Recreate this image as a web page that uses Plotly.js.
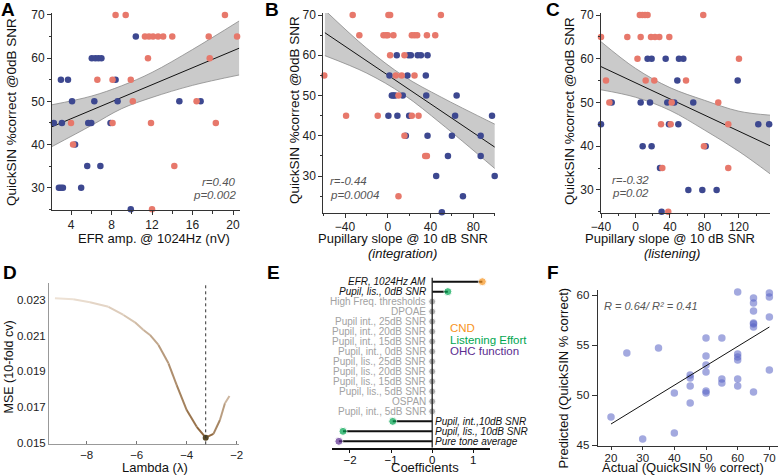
<!DOCTYPE html>
<html><head><meta charset="utf-8">
<script src="https://cdn.plot.ly/plotly-3.0.1.min.js"></script>
<style>html,body{margin:0;padding:0;background:#fff;} #chart{width:778px;height:476px;}</style>
</head><body><div id="chart"></div>
<script>
// ---------- Panel A : EFR amplitude vs QuickSIN ----------
const aRedX  = [4.0,4.2,6.6,8.1,8.1,8.4,9.4,9.9,10.1,11.3,11.7,12.1,12.6,13.1,14.0,11.6,11.9,14.2,12.0,16.4,17.6,17.7,18.3,19.2,20.4];
const aRedY  = [45,40,55,55,45,70,70,55,50,65,65,65,65,65,65,60,45,35,25,50,65,60,45,70,65];
const aBlueX = [2.3,3.1,3.0,3.7,4.1,4.4,2.8,3.0,3.2,5.0,5.6,6.9,5.7,6.0,6.05,6.4,6.7,7.0,6.3,7.9,8.4,8.6,10.4,9.9,14.7,16.8];
const aBlueY = [45,45,55,55,50,40,30,30,30,30,35,35,45,45,60,60,60,60,50,45,55,50,65,25,50,50];
const aFitX  = [2.1, 20.6];
const aFitY  = [44.1, 62.3];
const aBandX = [2.1, 6, 9, 12, 16, 20.6];
const aBandUp= [49.2, 51.2, 53.6, 56.7, 62.0, 68.6];
const aBandLo= [39.5, 44.4, 48.3, 50.9, 53.7, 56.1];

// ---------- Panel B : pupillary slope (integration) ----------
const bRedX  = [-32.8,0.6,2.2,49.7,-26.6,-4,-1.6,0,5.3,22.5,25,27.5,36.6,44.4,2.2,15.6,-59.4,7.5,13,25,10,-39,-9.4,22.5,28.8,15.6,35,36.6,10];
const bRedY  = [70,70,70,70,65,65,65,65,65,65,65,65,65,65,60,60,55,55,55,55,50,45,45,45,45,40,35,35,25];
const bBlueX = [8.4,19.4,21.6,28,31,37.2,1.6,18.4,35.6,3.8,5.3,6.9,14,36,64.4,0.6,9,20,63,97.5,16.9,37.2,60,86.9,56.3,86.9,45.3,100,70.3,50.6];
const bBlueY = [60,60,60,60,60,60,55,55,55,50,50,50,50,50,50,45,45,45,45,45,40,40,40,40,35,35,30,30,25,21];
const bFitX  = [-58.8, 100];
const bFitY  = [65.6, 37.2];
const bBandX = [-58.8, -20, 15, 50, 100];
const bBandUp= [71.2, 61.8, 54.8, 49.6, 42.9];
const bBandLo= [59.9, 55.6, 50.2, 43.0, 31.9];

// ---------- Panel C : pupillary slope (listening) ----------
const cRedX  = [-40,-34.2,-30.3,5,8,11,14,78.6,-9.5,6,18,22.6,27.6,39.2,2.3,120,11.8,21.8,58.6,42,96,29.6,40.8,107.6,79.4,31.1,107.6,38];
const cRedY  = [65,55,50,70,70,70,70,70,65,65,65,65,65,65,60,60,55,55,55,50,50,45,45,45,40,35,35,25];
const cBlueX = [-27.6,-40,14,18.7,35,50.4,55.5,48.5,118.5,6,16.8,36.9,45,67,38.8,49.7,142.4,155,8.3,18.7,81.4,28.4,61.3,77.5,94.1,30.3];
const cBlueY = [50,45,60,60,60,60,60,55,55,50,50,50,50,50,45,45,45,45,40,40,40,35,30,30,30,25];
const cFitX  = [-40, 156];
const cFitY  = [58.2, 40.1];
const cBandX = [-40, 0, 40, 80, 120, 156];
const cBandUp= [63.9, 57.8, 53.4, 50.5, 48.0, 47.1];
const cBandLo= [52.9, 51.2, 48.2, 43.7, 38.8, 33.7];

// ---------- Panel D : lasso CV curve ----------
const dLambda = [-9.27,-8.54,-7.87,-7.13,-6.53,-6.07,-5.73,-5.47,-5.13,-4.73,-4.4,-4.0,-3.6,-3.24,-2.93,-2.67,-2.47,-2.29];
const dMSE    = [0.02310,0.02304,0.02287,0.02262,0.02216,0.02175,0.02132,0.02104,0.02048,0.01945,0.01823,0.01683,0.01589,0.01528,0.01549,0.01627,0.01721,0.01762];

// ---------- Panel E : coefficients ----------
const eLabels = ["EFR, 1024Hz AM","Pupil, lis., 0dB SNR","High Freq. thresholds","DPOAE","Pupil int., 25dB SNR","Pupil, int., 20dB SNR","Pupil, int., 15dB SNR","Pupil, int., 0dB SNR","Pupil, lis., 25dB SNR","Pupil, lis., 20dB SNR","Pupil, lis., 15dB SNR","Pupil, lis., 5dB SNR","OSPAN","Pupil, int., 5dB SNR","Pupil, int.,10dB SNR","Pupil, lis., 10dB SNR","Pure tone average"];
const eCoef   = [1.22,0.38,0,0,0,0,0,0,0,0,0,0,0,0,-0.96,-2.17,-2.27];
const eGroup  = ["CND","Listening Effort","","","","","","","","","","","","","Listening Effort","Listening Effort","OHC function"];
const eLegend = ["CND","Listening Effort","OHC function"];

// ---------- Panel F : predicted vs actual ----------
const fActual = [20,25,30,35,40,40,45,45,45,45,50,50,50,50,50,50,55,55,55,60,60,60,60,60,60,65,65,65,65,65,65,65,70,70,70,70];
const fPred   = [47.8,54.2,45.6,54.7,50.2,46.2,52.0,51.7,50.9,49.2,55.7,53.9,53.0,52.3,50.4,50.2,55.7,51.6,51.2,60.3,54.1,53.8,53.5,51.6,50.9,59.7,59.2,58.4,57.2,57.1,56.8,50.3,60.2,59.8,57.8,52.5];
const fFitX   = [20, 70];
const fFitY   = [47.1, 56.8];

// ================= drawing =================
const W = 778, H = 476;
const RED = '#E7786B', BLUE = '#3D4890';
const FONT = 'Liberation Sans, Arial, Helvetica, sans-serif';
const groupColor = {"CND":"#F7941D","Listening Effort":"#00A651","OHC function":"#5B2C8F","":"#8c8c8c"};
const dx = px => px / W;
const dy = py => 1 - py / H;

const traces = [];
function bandTraces(xa, ya, bx, up, lo, fx, fy) {
  traces.push({x:bx, y:lo, xaxis:xa, yaxis:ya, mode:'lines', line:{color:'#8a8a8a', width:0.8, shape:'spline'}, hoverinfo:'skip'});
  traces.push({x:bx, y:up, xaxis:xa, yaxis:ya, mode:'lines', fill:'tonexty', fillcolor:'rgba(150,150,150,0.5)', line:{color:'#8a8a8a', width:0.8, shape:'spline'}, hoverinfo:'skip'});
  traces.push({x:fx, y:fy, xaxis:xa, yaxis:ya, mode:'lines', line:{color:'#111', width:1}});
}
function dots(xa, ya, x, y, color) {
  traces.push({x:x, y:y, xaxis:xa, yaxis:ya, mode:'markers', cliponaxis:false, marker:{color:color, size:6.5}});
}
bandTraces('x','y',aBandX,aBandUp,aBandLo,aFitX,aFitY);
dots('x','y',aBlueX,aBlueY,BLUE); dots('x','y',aRedX,aRedY,RED);
bandTraces('x2','y2',bBandX,bBandUp,bBandLo,bFitX,bFitY);
dots('x2','y2',bBlueX,bBlueY,BLUE); dots('x2','y2',bRedX,bRedY,RED);
bandTraces('x3','y3',cBandX,cBandUp,cBandLo,cFitX,cFitY);
dots('x3','y3',cBlueX,cBlueY,BLUE); dots('x3','y3',cRedX,cRedY,RED);

// Panel D gradient curve (segments between consecutive read points)
let iMin = 0;
dMSE.forEach((v,i)=>{ if (v < dMSE[iMin]) iMin = i; });
const light = [238,226,214], dark = [138,96,52];
function mix(t){ return 'rgb(' + light.map((c,k)=>Math.round(c + (dark[k]-c)*t)).join(',') + ')'; }
for (let i = 0; i < dLambda.length - 1; i++) {
  let t;
  if (i < iMin) t = Math.pow((i + 0.5) / iMin, 1.4);
  else t = 1 - 0.75 * ((i + 0.5 - iMin) / (dLambda.length - 1 - iMin));
  traces.push({x:[dLambda[i], dLambda[i+1]], y:[dMSE[i], dMSE[i+1]], xaxis:'x4', yaxis:'y4', mode:'lines', line:{color:mix(t), width:2}});
}
traces.push({x:[dLambda[iMin]], y:[dMSE[iMin]], xaxis:'x4', yaxis:'y4', mode:'markers', cliponaxis:false, marker:{color:'#5a4a28', size:6}});

// Panel E lollipops
const eIdx = eLabels.map((_,i)=>i);
eCoef.forEach((c,i)=>{
  if (c !== 0) traces.push({x:[0,c], y:[i,i], xaxis:'x5', yaxis:'y5', mode:'lines', line:{color:'#111', width:2}});
});
traces.push({x:eCoef, y:eIdx, xaxis:'x5', yaxis:'y5', mode:'markers', cliponaxis:false,
  marker:{color:eGroup.map(g=>groupColor[g]), size:eGroup.map(g=>g ? 8 : 7)}});

// Panel F
traces.push({x:fActual, y:fPred, xaxis:'x6', yaxis:'y6', mode:'markers', cliponaxis:false, marker:{color:'rgba(88,98,196,0.55)', size:7.5}});
traces.push({x:fFitX, y:fFitY, xaxis:'x6', yaxis:'y6', mode:'lines', line:{color:'#111', width:1}});

// ---------- axes ----------
function ax(domainPx, range, dtick, minor, extra) {
  const o = {domain:domainPx, range:range, showgrid:false, zeroline:false, showline:true, linecolor:'#333', linewidth:1,
    ticks:'outside', ticklen:4, tickwidth:1, tickcolor:'#333', dtick:dtick, tick0:0,
    tickfont:{size:12, color:'#222', family:FONT}, fixedrange:true};
  if (minor) o.minor = {ticks:'outside', ticklen:2.5, tickcolor:'#333', dtick:minor, tick0:0, showgrid:false};
  return Object.assign(o, extra || {});
}
const small = {size:11.5, color:'#222', family:FONT};
const layout = {
  width:W, height:H, margin:{l:0,r:0,t:0,b:0}, showlegend:false,
  paper_bgcolor:'#fff', plot_bgcolor:'rgba(0,0,0,0)',
  font:{family:FONT, size:12, color:'#222'},
  xaxis:  ax([dx(52),dx(240)], [2.12,20.69], 4, 2, {anchor:'y'}),
  yaxis:  ax([dy(210),dy(13)], [24.83,70.46], 10, 5, {anchor:'x'}),
  xaxis2: ax([dx(323.3),dx(495)], [-60.3,100.3], 40, 20, {anchor:'y2', ticklabelstandoff:-1}),
  yaxis2: ax([dy(212.7),dy(13)], [20.9,70.5], 10, 5, {anchor:'x2'}),
  xaxis3: ax([dx(601),dx(770)], [-40,156], 40, 20, {anchor:'y3', ticklabelstandoff:-1}),
  yaxis3: ax([dy(212.7),dy(13)], [24.8,70.46], 10, 5, {anchor:'x3'}),
  xaxis4: ax([dx(49),dx(239)], [-9.508,-1.908], 2, null, {anchor:'y4', linecolor:'#999', ticks:'inside', ticklen:3, tickcolor:'#777', tickfont:small}),
  yaxis4: ax([dy(444.3),dy(283.3)], [0.01491,0.023936], 0.002, null, {anchor:'x4', tick0:0.015, linecolor:'#999', ticks:'', tickformat:'.3f', tickfont:small}),
  xaxis5: ax([dx(331.7),dx(490)], [-2.445,1.406], 1, null, {anchor:'y5', linecolor:'#111', linewidth:2, tickcolor:'#111', ticklen:3, ticklabelstandoff:-3, tickfont:{size:11.5,color:'#111',family:FONT}}),
  yaxis5: {domain:[dy(447.7),dy(266.7)], range:[16.64,-1.5], anchor:'x5', visible:false, fixedrange:true},
  xaxis6: ax([dx(597.7),dx(778)], [15.8,72.73], 10, null, {anchor:'y6', ticklen:3, ticklabelstandoff:-2, tickfont:small}),
  yaxis6: ax([dy(445.7),dy(290)], [44.93,60.5], 5, null, {anchor:'x6', ticklen:5, tickfont:small}),
  shapes: [
    {type:'line', xref:'x4', yref:'y4 domain', x0:dLambda[iMin], x1:dLambda[iMin], y0:0, y1:1, line:{color:'#333', width:1, dash:'dot'}},
    {type:'line', xref:'x5', yref:'y5', x0:0, x1:0, y0:-0.4, y1:16.64, line:{color:'#222', width:1.3}}
  ],
  annotations: []
};

function ann(text, px, py, font, extra) {
  layout.annotations.push(Object.assign({text:text, x:dx(px), y:dy(py), xref:'paper', yref:'paper', showarrow:false,
    xanchor:'center', yanchor:'middle', font:Object.assign({family:FONT, size:13, color:'#111'}, font||{})}, extra||{}));
}
// panel letters
[['A',8,9],['B',272,9],['C',553,9],['D',10,272],['E',273,272],['F',553,272]].forEach(l=>ann('<b>'+l[0]+'</b>', l[1], l[2], {size:19, color:'#000'}));
// axis titles
ann('QuickSIN %correct @0dB SNR', 11, 112, {size:13.5}, {textangle:-90});
ann('QuickSIN %correct @0dB SNR', 294, 110, {size:13.5}, {textangle:-90});
ann('QuickSIN %correct @0dB SNR', 569, 111, {size:13.5}, {textangle:-90});
ann('EFR amp. @ 1024Hz (nV)', 153.5, 238, {size:13});
ann('Pupillary slope @ 10 dB SNR', 403, 238, {size:13});
ann('<i>(integration)</i>', 403, 253.5, {size:13});
ann('Pupillary slope @ 10 dB SNR', 670, 238, {size:13});
ann('<i>(listening)</i>', 672, 253.5, {size:13});
ann('MSE (10-fold cv)', 8.5, 367, {size:12.5}, {textangle:-90});
ann('Lambda (λ)', 154.5, 467.5, {size:13});
ann('Coefficients', 425, 467.5, {size:13});
ann('Predicted (QuickSIN % correct)', 562.5, 378, {size:13}, {textangle:-90});
ann('Actual (QuickSIN % correct)', 683, 467.5, {size:13});
// statistics
const statFont = {size:11.5, color:'#555', family:FONT};
ann('<i>r=0.40</i>', 238, 182, statFont, {xanchor:'right'});
ann('<i>p=0.002</i>', 238, 195, statFont, {xanchor:'right'});
ann('<i>r=-0.44</i>', 328, 181, statFont, {xanchor:'left'});
ann('<i>p=0.0004</i>', 328, 195, statFont, {xanchor:'left'});
ann('<i>r=-0.32</i>', 610, 180, statFont, {xanchor:'left'});
ann('<i>p=0.02</i>', 610, 193, statFont, {xanchor:'left'});
ann('<i>R = 0.64/ R² = 0.41</i>', 602, 306, {size:11, color:'#555'}, {xanchor:'left'});
// panel E labels
eLabels.forEach((lab,i)=>{
  const c = eCoef[i];
  const isKey = c !== 0;
  layout.annotations.push({text: isKey ? '<i>'+lab+'</i>' : lab, xref:'x5', yref:'y5', y:i,
    x: c < 0 ? 0.02 : -0.1, xanchor: c < 0 ? 'left' : 'right', yanchor:'middle', showarrow:false,
    font:{family:FONT, size:10, color: isKey ? '#111' : '#a2a2a2'}});
});
// panel E legend
eLegend.forEach((g,k)=>ann(g, 448, 328.3 + k*11.2, {size:11.5, color:groupColor[g]}, {xanchor:'left'}));

Plotly.newPlot('chart', traces, layout, {displayModeBar:false, staticPlot:true});
</script></body></html>
